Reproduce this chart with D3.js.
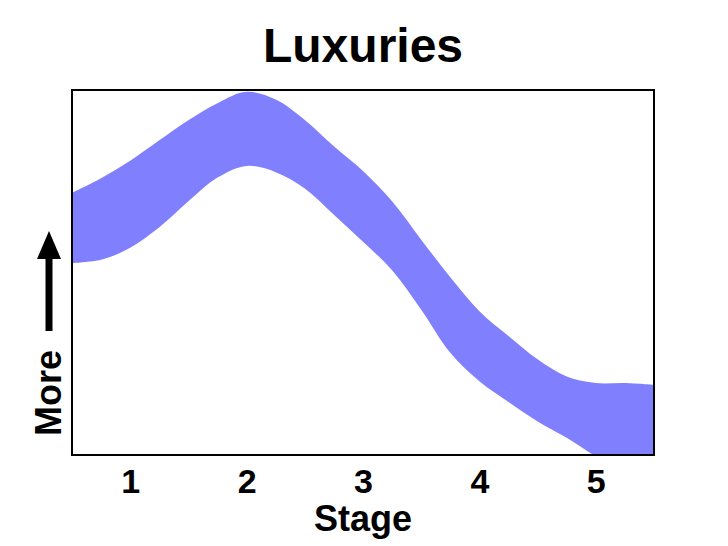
<!DOCTYPE html>
<html><head><meta charset="utf-8">
<script src="https://cdn.jsdelivr.net/npm/d3@7"></script>
<style>body{margin:0;background:#fff}svg{display:block}text{font-family:"Liberation Sans",Arial,Helvetica,sans-serif;font-weight:bold;fill:#000}</style>
</head><body><svg id="c" width="728" height="546"></svg>
<script>
const stageTicks = [1,2,3,4,5];
const stageX = [0.5,0.75,1,1.25,1.5,1.75,2,2.25,2.5,2.75,3,3.25,3.5,3.75,4,4.25,4.5,4.75,5,5.25,5.5];
const upper = [7.18,7.58,8.06,8.62,9.17,9.64,9.95,9.74,9.18,8.46,7.78,6.95,5.90,4.87,3.94,3.26,2.62,2.15,1.97,1.97,1.92];
const lower = [5.26,5.35,5.68,6.24,6.95,7.60,7.92,7.75,7.30,6.58,5.84,5.06,3.98,2.80,2.02,1.45,0.92,0.47,-0.04,-0.49,-0.96];

const svg = d3.select("#c");
const L=72,R=654,T=90,B=455;
const x = d3.scaleLinear().domain([0.5,5.5]).range([L,R]);
const y = d3.scaleLinear().domain([0,10]).range([B,T]);

svg.append("defs").append("clipPath").attr("id","clip")
  .append("rect").attr("x",L).attr("y",T).attr("width",R-L).attr("height",B-T);

const data = stageX.map((s,i)=>({s,u:upper[i],l:lower[i]}));
const area = d3.area().x(d=>x(d.s)).y0(d=>y(d.l)).y1(d=>y(d.u)).curve(d3.curveCatmullRom.alpha(0.5));
svg.append("path").datum(data).attr("d",area).attr("fill","#8080ff").attr("clip-path","url(#clip)");

svg.append("rect").attr("x",L).attr("y",T).attr("width",R-L).attr("height",B-T)
  .attr("fill","none").attr("stroke","#000").attr("stroke-width",2);

const ax = svg.append("g").attr("transform",`translate(0,${B})`)
  .call(d3.axisBottom(x).tickValues(stageTicks).tickSize(0).tickPadding(14).tickFormat(d3.format("d")));
ax.select(".domain").remove();
ax.selectAll("text").style("font-size","34px").style("font-family","'Liberation Sans',Arial,sans-serif").style("font-weight","bold").attr("fill","#000");

svg.append("text").attr("x",(L+R)/2).attr("y",62).attr("text-anchor","middle").style("font-size","48px").text("Luxuries");
svg.append("text").attr("x",(L+R)/2).attr("y",531).attr("text-anchor","middle").style("font-size","36px").text("Stage");
svg.append("text").attr("transform","translate(61,393) rotate(-90)").attr("text-anchor","middle").style("font-size","36px").text("More");

// arrow
svg.append("line").attr("x1",49).attr("x2",49).attr("y1",331).attr("y2",254).attr("stroke","#000").attr("stroke-width",7);
svg.append("path").attr("d","M49,231 L37,259 L61,259 Z").attr("fill","#000");
</script></body></html>
